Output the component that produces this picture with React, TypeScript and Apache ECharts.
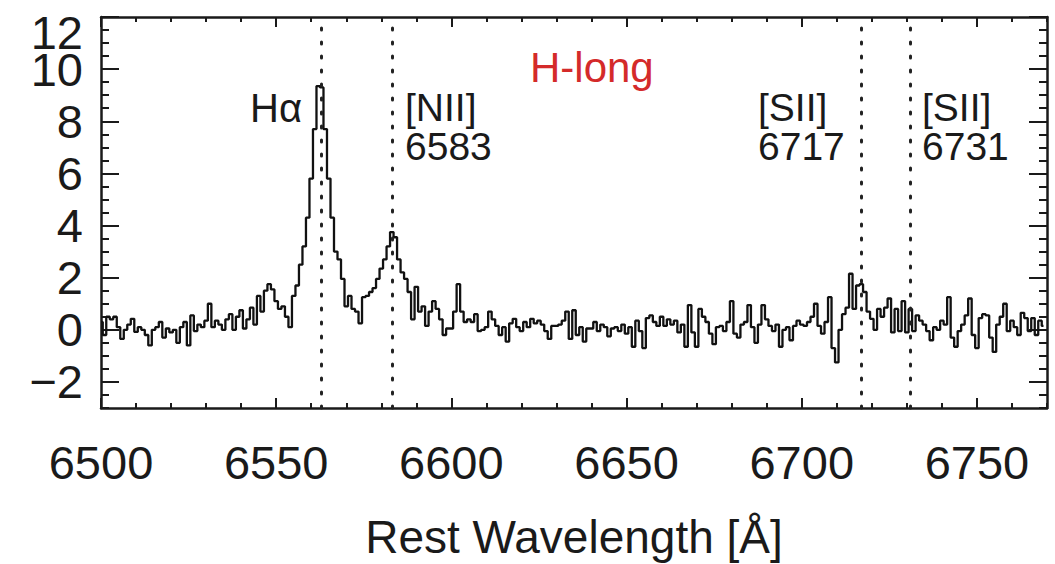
import React, { useEffect, useRef } from "react";
import * as echarts from "echarts";

// Spectrum: flux sampled every 1 Å from 6500 Å
const wavelengthStart = 6500;
const wavelengthStep = 1;
const flux: number[] = [
  0.3, -0.2, 0.5, 0.4, 0.5, 0.1, -0.35, 0.0, 0.2, 0.42,
  -0.08, 0.1, 0.0, -0.2, -0.6, 0.0, 0.1, 0.3, -0.3, 0.05,
  -0.1, 0.0, -0.5, 0.1, 0.3, -0.6, 0.55, -0.05, 0.2, 0.1,
  0.35, 1.0, 0.1, 0.35, 0.2, 0.0, 0.4, 0.6, 0.0, 0.5,
  0.75, 0.05, 0.4, 0.85, 0.2, 1.3, 0.7, 1.5, 1.75, 1.55,
  1.1, 0.8, 0.9, 0.5, 0.1, 1.3, 1.7, 2.5, 3.2, 4.3,
  5.8, 7.7, 9.35, 9.3, 7.7, 5.8, 4.3, 3.0, 2.7, 1.95,
  0.9, 1.3, 0.8, 0.7, 0.25, 1.25, 1.3, 1.45, 1.6, 1.95,
  2.35, 2.7, 3.2, 3.75, 3.55, 2.7, 2.2, 1.95, 1.45, 0.4,
  1.65, 0.7, 0.9, 0.15, 0.7, 1.1, 0.8, 0.4, -0.2, 0.05,
  0.05, 0.7, 1.75, 0.7, 0.3, 0.4, 0.3, 0.6, -0.05, 0.0,
  0.1, 0.7, 0.4, 0.15, -0.2, 0.1, -0.45, 0.25, 0.42, 0.1,
  -0.05, 0.3, 0.1, 0.42, 0.25, 0.35, 0.2, -0.05, -0.35, 0.15,
  0.15, 0.2, 0.35, 0.7, -0.35, 0.75, -0.2, 0.1, -0.45, 0.05,
  0.05, 0.3, -0.05, 0.2, 0.1, -0.25, 0.05, 0.1, -0.05, 0.2,
  -0.15, 0.1, -0.65, 0.35, -0.05, -0.7, 0.45, 0.55, 0.3, 0.15,
  0.5, 0.15, 0.4, 0.2, 0.35, -0.1, 0.2, -0.65, 0.95, -0.1,
  -0.65, 0.8, 0.5, 0.3, -0.15, -0.55, 0.1, 0.15, -0.05, 0.3,
  1.1, -0.15, -0.3, 0.2, 0.3, 0.95, 0.1, -0.5, 0.2, 0.95,
  0.4, 0.15, -0.05, 0.2, -0.65, 0.0, 0.1, -0.4, 0.15, 0.35,
  0.2, 0.15, 0.3, 0.5, 1.0, 0.15, -0.15, 0.3, 1.25, -0.7,
  -1.25, 0.0, 0.6, 0.85, 2.15, 0.8, 1.7, 1.75, 1.45, 0.7,
  0.42, 0.0, 0.8, 0.5, 0.85, 1.2, -0.1, 0.8, -0.05, 1.1,
  -0.1, 0.8, -0.05, 0.55, 0.35, 0.2, -0.05, -0.4, 0.1, 0.0,
  0.35, 0.2, 1.25, -0.3, -0.65, -0.05, 0.2, 0.55, 1.2, -0.2,
  -0.7, 0.45, 0.6, 0.55, -0.3, -0.85, 0.2, 0.5, 1.0, -0.05,
  0.35, 0.1, -0.2, 0.65, 0.45, -0.05, 0.45, -0.2, 0.35, 0.15,
];

// Emission line rest wavelengths (dotted markers)
const emissionLines = [6563, 6583, 6717, 6731];

// Axis ranges and ticks
const xMin = 6500;
const xMax = 6770;
const xMajorTicks = [6500, 6550, 6600, 6650, 6700, 6750];
const xMinorTicks = [
  6500, 6510, 6520, 6530, 6540, 6550, 6560, 6570, 6580, 6590, 6600, 6610, 6620,
  6630, 6640, 6650, 6660, 6670, 6680, 6690, 6700, 6710, 6720, 6730, 6740, 6750,
  6760, 6770,
];
const yMin = -3;
const yMax = 12;
const yMajorTicks = [-2, 0, 2, 4, 6, 8, 10, 12];
const yLabelValues = [-2, 0, 2, 4, 6, 8, 10];
const yTopLabelValues = [12];
const yMinorTicks = [
  -3, -2.5, -2, -1.5, -1, -0.5, 0, 0.5, 1, 1.5, 2, 2.5, 3, 3.5, 4, 4.5, 5, 5.5,
  6, 6.5, 7, 7.5, 8, 8.5, 9, 9.5, 10, 10.5, 11, 11.5, 12,
];

const FONT = '"Liberation Sans", "Helvetica", Arial, sans-serif';
const INK = "#1a1a1a";

export default function App() {
  const ref = useRef<HTMLDivElement>(null);

  useEffect(() => {
    if (!ref.current) return;
    const chart = echarts.init(ref.current, null, { renderer: "svg" });

    const lineW = 2.5;
    const mkX = (position: "top" | "bottom", major: boolean, withLabel: boolean, withLine: boolean) => ({
      type: "value",
      min: xMin,
      max: xMax,
      position,
      axisLine: { show: withLine, onZero: false, lineStyle: { color: INK, width: lineW } },
      axisTick: {
        show: true,
        inside: true,
        length: major ? 10 : 5,
        customValues: major ? xMajorTicks : xMinorTicks,
        lineStyle: { color: INK, width: 2 },
      },
      axisLabel: withLabel
        ? {
            show: true,
            customValues: xMajorTicks,
            margin: 31,
            fontSize: 47,
            fontFamily: FONT,
            color: INK,
            formatter: (v: number) => String(v),
          }
        : { show: false },
      splitLine: { show: false },
      ...(withLabel
        ? {
            name: "Rest Wavelength [Å]",
            nameLocation: "middle",
            nameGap: 110,
            nameTextStyle: { fontSize: 46, lineHeight: 38, fontFamily: FONT, color: INK },
          }
        : {}),
    });

    const fmtY = (v: number) => String(v).replace("-", "\u2212");

    const mkY = (
      position: "left" | "right",
      major: boolean,
      labelValues: number[] | null,
      withLine: boolean,
      padTop: boolean
    ) => ({
      type: "value",
      min: yMin,
      max: yMax,
      position,
      axisLine: { show: withLine, onZero: false, lineStyle: { color: INK, width: lineW } },
      axisTick: {
        show: true,
        inside: true,
        length: major ? 18 : 8,
        customValues: major ? yMajorTicks : yMinorTicks,
        lineStyle: { color: INK, width: 2 },
      },
      axisLabel: labelValues
        ? {
            show: true,
            showMaxLabel: true,
            showMinLabel: true,
            customValues: labelValues,
            margin: 18,
            fontSize: 47,
            lineHeight: 34,
            fontFamily: FONT,
            color: INK,
            formatter: padTop ? (v: number) => "{top|" + fmtY(v) + "}" : fmtY,
            rich: {
              top: { fontSize: 47, lineHeight: 34, fontFamily: FONT, color: INK, padding: [30, 0, 0, 0] },
            },
          }
        : { show: false },
      splitLine: { show: false },
    });

    const spectrum = flux.map((v, i) => [wavelengthStart + i * wavelengthStep, v]);

    const annot = (text: string, left: number, top: number) => ({
      type: "text",
      left,
      top,
      style: { text, fontSize: 39, lineHeight: 39, fontFamily: FONT, fill: INK },
    });

    chart.setOption({
      animation: false,
      backgroundColor: "#ffffff",
      grid: {
        left: 101,
        right: 8,
        top: 17,
        bottom: 156,
        containLabel: false,
        outerBoundsMode: "none",
      },
      xAxis: [
        mkX("bottom", true, true, true),
        mkX("bottom", false, false, false),
        mkX("top", true, false, true),
        mkX("top", false, false, false),
      ],
      yAxis: [
        mkY("left", true, yLabelValues, true, false),
        mkY("left", false, yTopLabelValues, false, true),
        mkY("right", true, null, true, false),
        mkY("right", false, null, false, false),
      ],
      series: [
        {
          type: "line",
          xAxisIndex: 0,
          yAxisIndex: 0,
          data: spectrum,
          step: "middle",
          symbol: "none",
          lineStyle: { color: "#111", width: 2.3 },
          markLine: {
            silent: true,
            symbol: ["none", "none"],
            label: { show: false },
            lineStyle: { type: [2, 12], width: 3, color: "#222", cap: "round" },
            data: emissionLines.map((x) => ({ xAxis: x })),
          },
          z: 3,
        },
      ],
      graphic: [
        { type: "text", left: 250, top: 88, style: { text: "H\u03b1", fontSize: 40, fontFamily: FONT, fill: INK } },
        annot("[NII]\n6583", 405, 88),
        annot("[SII]\n6717", 758, 88),
        annot("[SII]\n6731", 922, 88),
        {
          type: "text",
          left: 530,
          top: 46,
          style: { text: "H-long", fontSize: 42, fontFamily: FONT, fill: "#d42a2a" },
        },
      ],
    });

    return () => chart.dispose();
  }, []);

  return (
    <div
      ref={ref}
      style={{ position: "fixed", left: 0, top: 0, width: 1055, height: 564, background: "#fff" }}
    />
  );
}
